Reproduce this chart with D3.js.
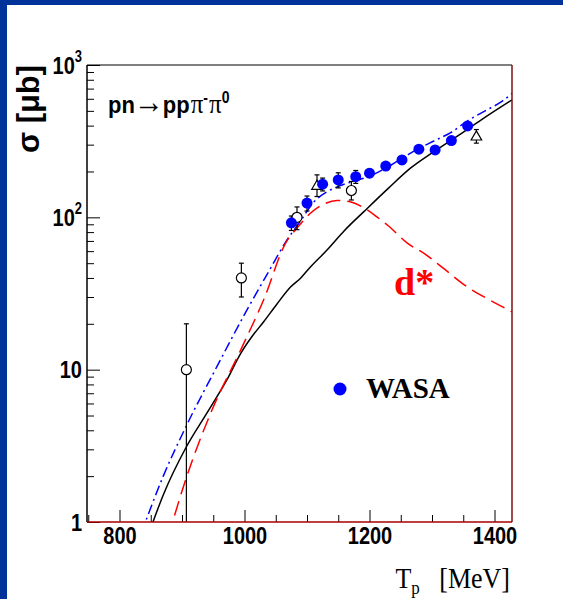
<!DOCTYPE html>
<html>
<head>
<meta charset="utf-8">
<script src="https://cdn.jsdelivr.net/npm/d3@7"></script>
<style>
  html, body { margin: 0; padding: 0; background: #fff; }
  svg { display: block; }
</style>
</head>
<body>
<svg id="chart" width="563" height="599"></svg>
<script>
// ---- data: pn -> pp pi- pi0 total cross section vs beam energy ----
// WASA measurements
const wasaT     = [1075, 1100, 1125, 1150, 1178, 1200, 1226, 1252, 1279, 1305, 1331, 1357];
const wasaSigma = [92, 124, 165, 176, 185, 195, 217, 238, 280, 277, 319, 398];
const wasaErr   = [10, 14, 16, 20, 18, 12, 12, 13, 15, 15, 17, 20];

// earlier measurements (open circles)
const oldCircT     = [907, 995, 1084, 1171];
const oldCircSigma = [10, 40, 100, 150];
const oldCircErrLo = [10, 10, 17, 20];
const oldCircErrHi = [10, 10, 17, 22];

// earlier measurements (open triangles)
const oldTriT     = [1116, 1371];
const oldTriSigma = [160, 337];
const oldTriErrLo = [23, 30];
const oldTriErrHi = [30, 40];

// model curves
const convT = [845, 871, 906, 940, 972, 994, 1012, 1031, 1052, 1074, 1090, 1103, 1132, 1160, 1191, 1230, 1266, 1303, 1340, 1380, 1428];
const convS = [0.8, 1.54, 3.06, 5.2, 8.6, 12.8, 16.5, 20.7, 27, 35, 40, 46, 61, 82, 109, 155, 211, 270, 340, 440, 590];

const fullT = [835, 870, 906, 956, 1004, 1040, 1066, 1090, 1110, 1132, 1156, 1180, 1205, 1230, 1255, 1280, 1305, 1330, 1357, 1385, 1410, 1428];
const fullS = [0.85, 2.0, 4.2, 10.5, 24.7, 45, 69, 95, 125, 147, 163, 175, 190, 215, 248, 285, 320, 360, 430, 500, 570, 650];

const dstarT = [878, 906, 946, 994, 1031, 1066, 1085, 1105, 1125, 1148, 1170, 1190, 1210, 1230, 1260, 1290, 1319, 1356, 1390, 1428];
const dstarS = [0.8, 1.9, 5.2, 13.5, 29, 68, 86, 106, 121, 129, 126, 116, 102, 88, 68, 57, 46, 35, 29, 24];

// axis ticks
const xMajor = [800, 1000, 1200, 1400];
const xMinor = [750, 850, 900, 950, 1050, 1100, 1150, 1250, 1300, 1350];
const yMajor = [1, 10, 100, 1000];
const yBase  = ["1", "10", "10", "10"];
const yExp   = ["", "", "2", "3"];

// ---- layout ----
const W = 563, H = 599;
const L = 87, R = 512, T = 65, B = 522;
const sans = "'Liberation Sans', Arial, Helvetica, sans-serif";
const serif = "'Liberation Serif', 'Times New Roman', serif";
const stretch = 1.22;   // tall glyph proportions of the axis lettering

const svg = d3.select("#chart");
svg.append("rect").attr("width", W).attr("height", H).attr("fill", "#fff");
svg.append("rect").attr("x", 0).attr("y", 0).attr("width", 7).attr("height", H).attr("fill", "#003399");
svg.append("rect").attr("x", 0).attr("y", 0).attr("width", W).attr("height", 5).attr("fill", "#003399");

const x = d3.scaleLinear().domain([748, 1428]).range([L, R]);
const y = d3.scaleLog().domain([1, 1000]).range([B, T]);

svg.append("defs").append("clipPath").attr("id", "plotClip")
  .append("rect").attr("x", L).attr("y", T).attr("width", R - L).attr("height", B - T);

// ---- axes ----
const gx = svg.append("g").attr("transform", `translate(0,${B})`)
  .call(d3.axisBottom(x).tickValues(xMajor).tickSize(-12).tickPadding(4).tickFormat(d3.format("d")));
gx.select(".domain").remove();
gx.selectAll("line").attr("stroke", "#000").attr("stroke-width", 1);
gx.selectAll("text").attr("font-family", sans).attr("font-weight", "bold")
  .attr("font-size", 20).attr("fill", "#000")
  .attr("transform", `scale(1,${stretch})`);

const gxm = svg.append("g").attr("transform", `translate(0,${B})`)
  .call(d3.axisBottom(x).tickValues(xMinor).tickSize(-7).tickFormat(""));
gxm.select(".domain").remove();
gxm.selectAll("line").attr("stroke", "#000").attr("stroke-width", 1);

const gy = svg.append("g").attr("transform", `translate(${L},0)`)
  .call(d3.axisLeft(y).tickValues(yMajor).tickSize(-13).tickFormat(""));
gy.select(".domain").remove();
gy.selectAll("line").attr("stroke", "#000").attr("stroke-width", 1);

const yMinor = y.ticks().filter(v => !yMajor.includes(v));
const gym = svg.append("g").attr("transform", `translate(${L},0)`)
  .call(d3.axisLeft(y).tickValues(yMinor).tickSize(-7).tickFormat(""));
gym.select(".domain").remove();
gym.selectAll("line").attr("stroke", "#000").attr("stroke-width", 1);

// y tick labels with powers of ten
yMajor.forEach((v, i) => {
  const t = svg.append("text")
    .attr("transform", `translate(82,${y(v)}) scale(1,${stretch})`)
    .attr("dy", "0.36em")
    .attr("text-anchor", "end")
    .attr("font-family", sans).attr("font-weight", "bold").attr("font-size", 20);
  t.append("tspan").text(yBase[i]);
  if (yExp[i]) {
    t.append("tspan").attr("font-size", 13).attr("dy", "-0.75em").text(yExp[i]);
  }
});

// ---- curves ----
const plot = svg.append("g").attr("clip-path", "url(#plotClip)");
const line = d3.line().x(d => x(d[0])).y(d => y(d[1])).curve(d3.curveMonotoneX);

plot.append("path").datum(convT.map((t, i) => [t, convS[i]]))
  .attr("d", line).attr("fill", "none").attr("stroke", "#000").attr("stroke-width", 1.5);

plot.append("path").datum(fullT.map((t, i) => [t, fullS[i]]))
  .attr("d", line).attr("fill", "none").attr("stroke", "#0000ff").attr("stroke-width", 1.5)
  .attr("stroke-dasharray", "10,4,2,4");

plot.append("path").datum(dstarT.map((t, i) => [t, dstarS[i]]))
  .attr("d", line).attr("fill", "none").attr("stroke", "#ff0000").attr("stroke-width", 1.5)
  .attr("stroke-dasharray", "15,7");

// ---- error bars ----
function errorBar(g, t, s, lo, hi) {
  const xx = x(t);
  const yTop = y(s + hi);
  const yBot = s - lo > 0 ? y(s - lo) : B + 5;
  g.append("line").attr("x1", xx).attr("x2", xx).attr("y1", yTop).attr("y2", yBot)
    .attr("stroke", "#000").attr("stroke-width", 1.2);
  g.append("line").attr("x1", xx - 2.5).attr("x2", xx + 2.5).attr("y1", yTop).attr("y2", yTop)
    .attr("stroke", "#000").attr("stroke-width", 1.2);
  if (s - lo > 0) {
    g.append("line").attr("x1", xx - 2.5).attr("x2", xx + 2.5).attr("y1", yBot).attr("y2", yBot)
      .attr("stroke", "#000").attr("stroke-width", 1.2);
  }
}

oldCircT.forEach((t, i) => errorBar(plot, t, oldCircSigma[i], oldCircErrLo[i], oldCircErrHi[i]));
oldTriT.forEach((t, i) => errorBar(plot, t, oldTriSigma[i], oldTriErrLo[i], oldTriErrHi[i]));
wasaT.forEach((t, i) => errorBar(plot, t, wasaSigma[i], wasaErr[i], wasaErr[i]));

// open circles
plot.selectAll("circle.old").data(oldCircT).join("circle").attr("class", "old")
  .attr("cx", d => x(d)).attr("cy", (d, i) => y(oldCircSigma[i])).attr("r", 5)
  .attr("fill", "#fff").attr("stroke", "#000").attr("stroke-width", 1.2);

// open triangles
const tri = d3.symbol().type(d3.symbolTriangle).size(48);
plot.selectAll("path.tri").data(oldTriT).join("path").attr("class", "tri")
  .attr("transform", (d, i) => `translate(${x(d)},${y(oldTriSigma[i])})`)
  .attr("d", tri()).attr("fill", "#fff").attr("stroke", "#000").attr("stroke-width", 1.2);

// WASA points
plot.selectAll("circle.wasa").data(wasaT).join("circle").attr("class", "wasa")
  .attr("cx", d => x(d)).attr("cy", (d, i) => y(wasaSigma[i])).attr("r", 5.5)
  .attr("fill", "#0000ff");

// ---- frame ----
svg.append("line").attr("x1", L).attr("x2", L).attr("y1", T).attr("y2", B).attr("stroke", "#000").attr("stroke-width", 1.5);
svg.append("line").attr("x1", L).attr("x2", R).attr("y1", T).attr("y2", T).attr("stroke", "#000").attr("stroke-width", 1.2);
svg.append("line").attr("x1", R).attr("x2", R).attr("y1", T).attr("y2", B).attr("stroke", "#7a1010").attr("stroke-width", 1.5);
svg.append("line").attr("x1", L).attr("x2", R).attr("y1", B).attr("y2", B).attr("stroke", "#000").attr("stroke-width", 1.2);
svg.append("line").attr("x1", L).attr("x2", R).attr("y1", B).attr("y2", B).attr("stroke", "#ff0000").attr("stroke-width", 1);

// ---- labels ----
svg.append("text")
  .attr("transform", `translate(39,${T}) rotate(-90) scale(1,1.15)`)
  .attr("text-anchor", "end")
  .attr("font-family", sans).attr("font-weight", "bold").attr("font-size", 27)
  .attr("textLength", 88).attr("lengthAdjust", "spacingAndGlyphs")
  .text("σ [μb]");

const reac = svg.append("text").attr("transform", "translate(108,113) scale(1,1.12)")
  .attr("font-family", sans).attr("font-weight", "bold").attr("font-size", 22);
reac.append("tspan").text("pn");
reac.append("tspan").attr("font-weight", "normal").attr("font-size", 30).attr("dx", -1).text("→");
reac.append("tspan").attr("dx", -1).text("pp");
reac.append("tspan").attr("font-family", serif).attr("font-weight", "normal").attr("font-size", 25).attr("dx", 1).text("π");
reac.append("tspan").attr("font-size", 14).attr("dy", -9).text("-");
reac.append("tspan").attr("font-family", serif).attr("font-weight", "normal").attr("font-size", 25).attr("dx", 1).attr("dy", 9).text("π");
reac.append("tspan").attr("font-size", 14).attr("dy", -9).text("0");

svg.append("text").attr("x", 394).attr("y", 295)
  .attr("font-family", serif).attr("font-weight", "bold").attr("font-size", 38)
  .attr("fill", "#ff0000").text("d*");

svg.append("circle").attr("cx", 340).attr("cy", 389).attr("r", 6.5).attr("fill", "#0000ff");
svg.append("text").attr("x", 366).attr("y", 398)
  .attr("font-family", serif).attr("font-weight", "bold").attr("font-size", 29)
  .text("WASA");

const xt = svg.append("text").attr("transform", "translate(510,588) scale(1,1.12)").attr("text-anchor", "end")
  .attr("font-family", serif).attr("font-size", 26);
xt.append("tspan").text("T");
xt.append("tspan").attr("font-size", 17).attr("dy", 5).text("p");
xt.append("tspan").attr("dy", -5).text("\u00a0\u00a0\u00a0[MeV]");
</script>
</body>
</html>
